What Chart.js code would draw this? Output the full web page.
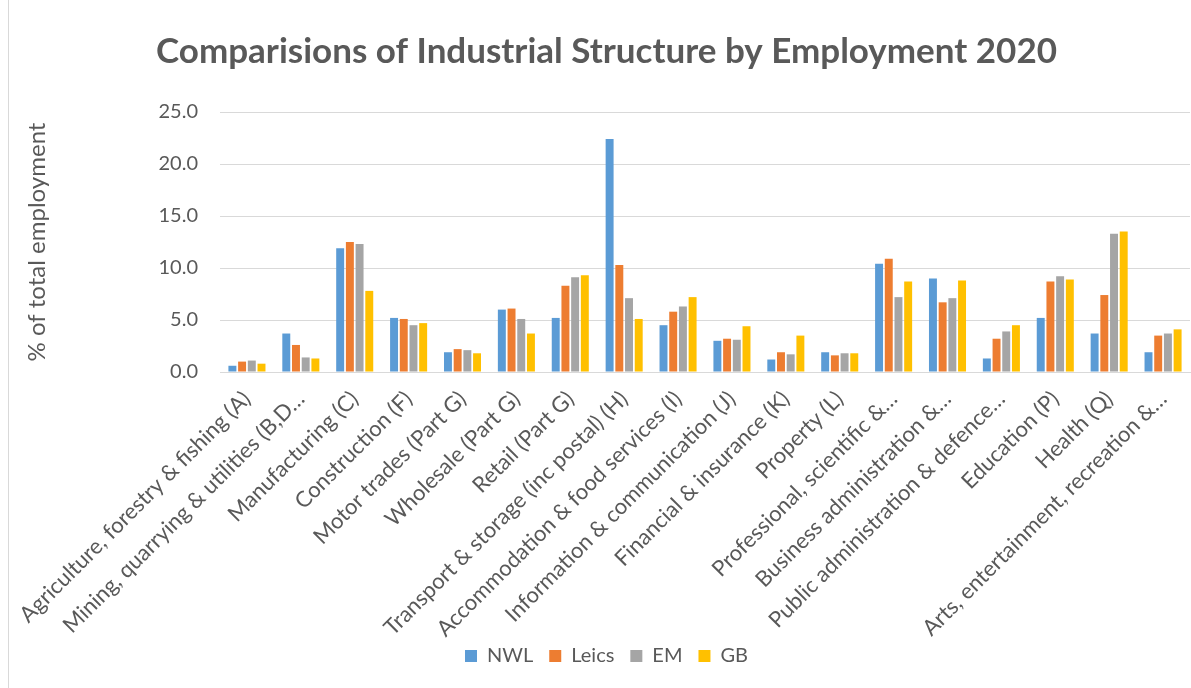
<!DOCTYPE html>
<html>
<head>
<meta charset="utf-8">
<script src="https://cdn.jsdelivr.net/npm/chart.js@4/dist/chart.umd.min.js"></script>
<style>
html,body{margin:0;padding:0;background:#fff;}
#wrap{position:absolute;left:8px;top:0;width:1183px;height:688px;border-left:1px solid #d9d9d9;}
</style>
</head>
<body>
<div id="wrap"><canvas id="chartIndustry"></canvas></div>
<script>
// categories (Excel truncates the long ones)
const categories = [
"Agriculture, forestry & fishing (A)",
"Mining, quarrying & utilities (B,D…",
"Manufacturing (C)",
"Construction (F)",
"Motor trades (Part G)",
"Wholesale (Part G)",
"Retail (Part G)",
"Transport & storage (inc postal) (H)",
"Accommodation & food services (I)",
"Information & communication (J)",
"Financial & insurance (K)",
"Property (L)",
"Professional, scientific &…",
"Business administration &…",
"Public administration & defence…",
"Education (P)",
"Health (Q)",
"Arts, entertainment, recreation &…"
];

// % of total employment
const nwl   = [0.6, 3.7, 11.9, 5.2, 1.9, 6.0, 5.2, 22.4, 4.5, 3.0, 1.2, 1.9, 10.4, 9.0, 1.3, 5.2, 3.7, 1.9];
const leics = [1.0, 2.6, 12.5, 5.1, 2.2, 6.1, 8.3, 10.3, 5.8, 3.2, 1.9, 1.6, 10.9, 6.7, 3.2, 8.7, 7.4, 3.5];
const em    = [1.1, 1.4, 12.3, 4.5, 2.1, 5.1, 9.1, 7.1, 6.3, 3.1, 1.7, 1.8, 7.2, 7.1, 3.9, 9.2, 13.3, 3.7];
const gb    = [0.8, 1.3, 7.8, 4.7, 1.8, 3.7, 9.3, 5.1, 7.2, 4.4, 3.5, 1.8, 8.7, 8.8, 4.5, 8.9, 13.5, 4.1];

const seriesNames = ["NWL", "Leics", "EM", "GB"];
const yTicks = [0, 5, 10, 15, 20, 25];

const grey = "#595959";
const font = "Lato, 'Open Sans', sans-serif";

function bar(label, data, color){
return {label:label, data:data, backgroundColor:color, borderWidth:0,
categoryPercentage:0.72, barPercentage:0.82};
}

// long rotated labels run past the axis box, as in the Excel original: don't clip them
const noLabelClip = {
id:"noLabelClip",
beforeDraw(chart){
chart.scales.x._computeLabelArea = () => undefined;
}
};

new Chart(document.getElementById("chartIndustry"),{
type:"bar",
data:{
labels:categories,
datasets:[
bar(seriesNames[0], nwl, "#5B9BD5"),
bar(seriesNames[1], leics, "#ED7D31"),
bar(seriesNames[2], em, "#A5A5A5"),
bar(seriesNames[3], gb, "#FFC000")
]
},
options:{
responsive:true,
maintainAspectRatio:false,
animation:false,
layout:{padding:{left:14,right:2,top:0,bottom:12}},
plugins:{
title:{
display:true,
text:"Comparisions of Industrial Structure by Employment 2020",
color:grey,
font:{family:font,size:35,weight:"bold"},
padding:{top:31,bottom:39}
},
legend:{
position:"bottom",
labels:{
color:grey,
font:{family:font,size:20},
boxWidth:12,boxHeight:12,
padding:16
}
},
tooltip:{enabled:false}
},
scales:{
x:{
grid:{display:false},
border:{color:"#d9d9d9"},
ticks:{
color:grey,
font:{family:font,size:22},
minRotation:45,maxRotation:45,
autoSkip:false,
padding:6
},
afterFit:(s)=>{ s.height = 258; }
},
y:{
min:0,max:25,
afterBuildTicks:(s)=>{ s.ticks = yTicks.map(v=>({value:v})); },
grid:{color:"#d9d9d9",lineWidth:1,drawTicks:false},
border:{display:false},
ticks:{
color:grey,
font:{family:font,size:20},
padding:22,
callback:(v)=>Number(v).toFixed(1)
},
title:{
display:true,
text:"% of total employment",
color:grey,
font:{family:font,size:24},
padding:{top:0,bottom:6}
},
afterFit:(s)=>{ s.width = 197; }
}
}
},
plugins:[noLabelClip]
});
</script>
</body>
</html>
